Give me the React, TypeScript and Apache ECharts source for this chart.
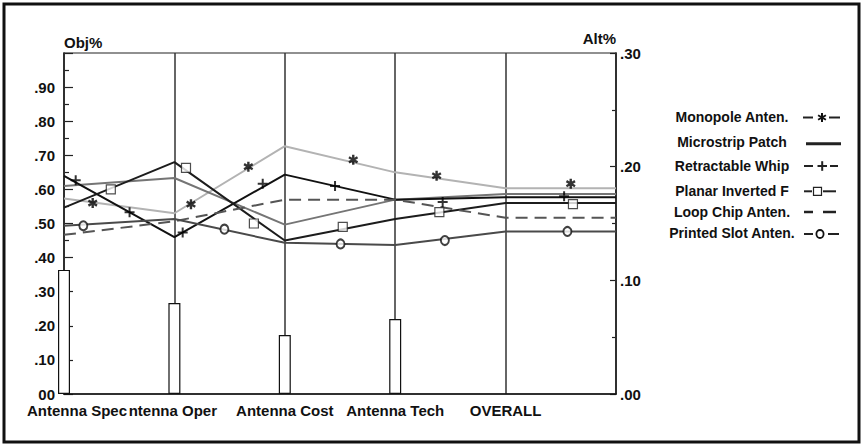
import React, { useEffect, useRef } from 'react';
import * as echarts from 'echarts';

// ---- data ----
const criteria = ['Antenna Spec', 'Antenna Oper', 'Antenna Cost', 'Antenna Tech', 'OVERALL'];
const criteriaWeights = [0.364, 0.267, 0.173, 0.22];

const alternatives = [
  'Monopole Anten.',
  'Microstrip Patch',
  'Retractable Whip',
  'Planar Inverted F',
  'Loop Chip Anten.',
  'Printed Slot Anten.',
];

// Alt% per criterion (Spec, Oper, Cost, Tech, OVERALL)
const monopole = [0.172, 0.159, 0.218, 0.195, 0.181];
const microstrip = [0.183, 0.19, 0.149, 0.171, 0.176];
const retractable = [0.192, 0.138, 0.193, 0.171, 0.173];
const planar = [0.164, 0.204, 0.135, 0.154, 0.168];
const loopChip = [0.14, 0.152, 0.171, 0.171, 0.155];
const printedSlot = [0.148, 0.154, 0.133, 0.131, 0.143];

// marker positions along the lines [x in criterion units, Alt%]
const monopoleMarks = [[0.26, 0.168], [1.15, 0.167], [1.67, 0.2], [2.62, 0.206], [3.375, 0.192], [4.59, 0.185]];
const retractableMarks = [[0.106, 0.188], [0.594, 0.16], [1.075, 0.142], [1.8, 0.185], [2.455, 0.183], [3.43, 0.169], [4.53, 0.174]];
const planarMarks = [[0.424, 0.18], [1.105, 0.199], [1.72, 0.15], [2.525, 0.147], [3.4, 0.16], [4.61, 0.167]];
const printedMarks = [[0.175, 0.148], [1.453, 0.145], [2.505, 0.132], [3.45, 0.135], [4.56, 0.143]];

const FONT = 'Liberation Sans';

const STAR =
  'path://M3.8,0L6.2,0L6.2,10L3.8,10ZM8.7,1.4L9.9,3.5L1.3,8.6L0.1,6.5ZM0.1,3.5L1.3,1.4L9.9,6.5L8.7,8.6Z';
const PLUS = 'path://M4,0H6V4H10V6H6V10H4V6H0V4H4Z';

function lineData(vals: number[]) {
  const d = vals.map((v, i) => [i, v]);
  d.push([criteria.length, vals[vals.length - 1]]);
  return d;
}

function pad2(n: number) {
  const s = String(Math.round(n));
  return s.length < 2 ? '0' + s : s;
}

export default function App() {
  const ref = useRef<HTMLDivElement>(null);

  useEffect(() => {
    if (!ref.current) return;
    const chart = echarts.init(ref.current, undefined, { renderer: 'svg' });

    const lineSeries = [
      { name: alternatives[0], vals: monopole, color: '#b3b3b3', type: 'solid' },
      { name: alternatives[1], vals: microstrip, color: '#757575', type: 'solid' },
      { name: alternatives[2], vals: retractable, color: '#111111', type: 'solid' },
      { name: alternatives[3], vals: planar, color: '#1c1c1c', type: 'solid' },
      { name: alternatives[4], vals: loopChip, color: '#555555', type: [12, 7] },
      { name: alternatives[5], vals: printedSlot, color: '#4a4a4a', type: 'solid' },
    ].map((s) => ({
      name: s.name,
      type: 'line',
      xAxisIndex: 0,
      yAxisIndex: 1,
      data: lineData(s.vals),
      symbol: 'none',
      lineStyle: { color: s.color, width: 2, type: s.type },
      z: 3,
      silent: true,
    }));

    const markerSeries = [
      {
        type: 'scatter',
        yAxisIndex: 1,
        data: monopoleMarks,
        symbol: STAR,
        symbolSize: 10,
        symbolKeepAspect: true,
        itemStyle: { color: '#000' },
        z: 6,
      },
      {
        type: 'scatter',
        yAxisIndex: 1,
        data: retractableMarks,
        symbol: PLUS,
        symbolSize: 10,
        itemStyle: { color: '#000' },
        z: 6,
      },
      {
        type: 'scatter',
        yAxisIndex: 1,
        data: planarMarks,
        symbol: 'rect',
        symbolSize: 9,
        itemStyle: { color: '#fff', borderColor: '#222', borderWidth: 1.2 },
        z: 6,
      },
      {
        type: 'scatter',
        yAxisIndex: 1,
        data: printedMarks,
        symbol: 'circle',
        symbolSize: [8, 9],
        itemStyle: { color: '#fff', borderColor: '#111', borderWidth: 2 },
        z: 6,
      },
    ];

    const labelStyle = { color: '#111', fontFamily: FONT, fontWeight: 'bold' as const, fontSize: 15 };

    // legend drawn as graphic (text centred, icon to the right)
    const rowsY = [116.5, 141.7, 165.5, 191.3, 212, 233];
    const legendEls: any[] = [];
    const dash = (x1: number, x2: number, y: number, w = 2) => ({
      type: 'line',
      shape: { x1, y1: y, x2, y2: y },
      style: { stroke: '#222', lineWidth: w },
    });
    alternatives.forEach((name, i) => {
      const y = rowsY[i];
      legendEls.push({
        type: 'text',
        x: 732,
        y,
        style: {
          text: name,
          fill: '#111',
          font: `bold 14px "${FONT}"`,
          align: 'center',
          verticalAlign: 'middle',
        },
      });
    });
    {
      const y = rowsY[0] + 1;
      legendEls.push(dash(803, 813, y), dash(829, 840, y));
      const cx = 822;
      legendEls.push(
        { type: 'line', shape: { x1: cx, y1: y - 4.5, x2: cx, y2: y + 4.5 }, style: { stroke: '#111', lineWidth: 2 } },
        { type: 'line', shape: { x1: cx - 3.9, y1: y - 2.25, x2: cx + 3.9, y2: y + 2.25 }, style: { stroke: '#111', lineWidth: 2 } },
        { type: 'line', shape: { x1: cx - 3.9, y1: y + 2.25, x2: cx + 3.9, y2: y - 2.25 }, style: { stroke: '#111', lineWidth: 2 } }
      );
    }
    legendEls.push(dash(806, 841, rowsY[1] + 2, 3));
    {
      const y = rowsY[2] + 0.5;
      legendEls.push(dash(804, 813, y), dash(830, 838, y));
      legendEls.push(
        { type: 'line', shape: { x1: 817.5, y1: y, x2: 827, y2: y }, style: { stroke: '#222', lineWidth: 2 } },
        { type: 'line', shape: { x1: 822.2, y1: y - 4.8, x2: 822.2, y2: y + 4.8 }, style: { stroke: '#222', lineWidth: 2 } }
      );
    }
    {
      const y = rowsY[3];
      legendEls.push(dash(804, 812, y), dash(823, 836, y));
      legendEls.push({
        type: 'rect',
        shape: { x: 813.5, y: y - 4, width: 8, height: 8 },
        style: { fill: '#fff', stroke: '#222', lineWidth: 1.2 },
      });
    }
    {
      const y = rowsY[4];
      legendEls.push(dash(804, 813, y, 2.5), dash(823, 836, y, 2.5));
    }
    {
      const y = rowsY[5] + 1;
      legendEls.push(dash(804, 813, y), dash(828, 839, y));
      legendEls.push({
        type: 'ellipse',
        shape: { cx: 820, cy: y, rx: 3.6, ry: 4 },
        style: { fill: '#fff', stroke: '#111', lineWidth: 1.8 },
      });
    }

    const xBase = {
      type: 'value',
      min: 0,
      max: criteria.length,
      interval: 1,
      position: 'bottom',
      axisTick: { show: false },
    };

    chart.setOption({
      animation: false,
      backgroundColor: '#fff',
      textStyle: { fontFamily: FONT },
      grid: {
        left: 64,
        right: 246,
        top: 53,
        bottom: 51,
        show: true,
        borderColor: '#222',
        borderWidth: 1.2,
        backgroundColor: 'transparent',
      },
      xAxis: [
        {
          ...xBase,
          z: 1,
          axisLine: { show: true, onZero: false, lineStyle: { color: '#111', width: 1.5 } },
          splitLine: { show: true, lineStyle: { color: '#333', width: 1.5 } },
          axisLabel: {
            ...labelStyle,
            margin: 9,
            showMinLabel: true,
            showMaxLabel: true,
            formatter: (v: number) => {
              const i = Math.round(v);
              if (i === 0) return '{pad|}{first|' + criteria[0] + '}';
              return i % 2 === 0 && criteria[i] ? criteria[i] : '';
            },
            rich: {
              pad: { width: 26 },
              first: { ...labelStyle },
            },
          },
        },
        {
          ...xBase,
          z: 0,
          axisLine: { show: false, onZero: false },
          splitLine: { show: false },
          axisLabel: {
            ...labelStyle,
            margin: 9,
            showMinLabel: true,
            showMaxLabel: true,
            formatter: (v: number) => {
              const i = Math.round(v);
              if (i === 1)
                return '{hid|' + criteria[1].slice(0, 1) + '}{vis|' + criteria[1].slice(1) + '}{pr|}';
              return i % 2 === 1 && criteria[i] ? criteria[i] : '';
            },
            rich: {
              hid: { ...labelStyle, color: 'rgba(0,0,0,0)' },
              vis: { ...labelStyle },
              pr: { width: 14 },
            },
          },
        },
      ],
      yAxis: [
        {
          type: 'value',
          min: 0,
          max: 1,
          interval: 0.1,
          position: 'left',
          name: 'Obj%',
          nameLocation: 'end',
          nameGap: 3,
          nameTextStyle: { ...labelStyle, align: 'left', verticalAlign: 'bottom' },
          axisLine: { show: true, onZero: false, lineStyle: { color: '#111', width: 1.5 } },
          axisTick: { show: true, inside: true, length: 9, lineStyle: { color: '#222', width: 1.2 } },
          minorTick: { show: true, splitNumber: 2, length: 5, lineStyle: { color: '#222', width: 1.2 } },
          splitLine: { show: false },
          axisLabel: {
            ...labelStyle,
            margin: 9,
            formatter: (v: number) => (v === 0 ? '00' : v > 0.995 ? '' : '.' + pad2(v * 100)),
          },
        },
        {
          type: 'value',
          min: 0,
          max: 0.3,
          interval: 0.1,
          position: 'right',
          name: 'Alt%',
          nameLocation: 'end',
          nameGap: 3,
          nameTextStyle: { ...labelStyle, align: 'right', verticalAlign: 'bottom' },
          axisLine: { show: true, onZero: false, lineStyle: { color: '#111', width: 1.5 } },
          axisTick: { show: true, inside: true, length: 6, lineStyle: { color: '#222', width: 1.2 } },
          minorTick: { show: true, splitNumber: 2, length: 4, lineStyle: { color: '#222', width: 1.2 } },
          splitLine: { show: false },
          axisLabel: {
            ...labelStyle,
            margin: 4,
            formatter: (v: number) => '.' + pad2(v * 100),
          },
        },
      ],
      series: [
        {
          name: 'weights',
          type: 'bar',
          xAxisIndex: 0,
          yAxisIndex: 0,
          data: criteriaWeights.map((v, i) => [i, v]),
          barWidth: 12,
          clip: false,
          itemStyle: { color: '#fff', borderColor: '#111', borderWidth: 1.2 },
          z: 2,
          silent: true,
        },
        ...lineSeries,
        ...markerSeries,
      ],
      graphic: [
        {
          type: 'rect',
          shape: { x: 4, y: 4, width: 855, height: 438 },
          style: { fill: 'none', stroke: '#111', lineWidth: 3 },
          silent: true,
        },
        ...legendEls,
      ],
    });

    return () => chart.dispose();
  }, []);

  return (
    <div
      ref={ref}
      style={{ position: 'fixed', left: 0, top: 0, width: 862, height: 445, background: '#fff' }}
    />
  );
}
